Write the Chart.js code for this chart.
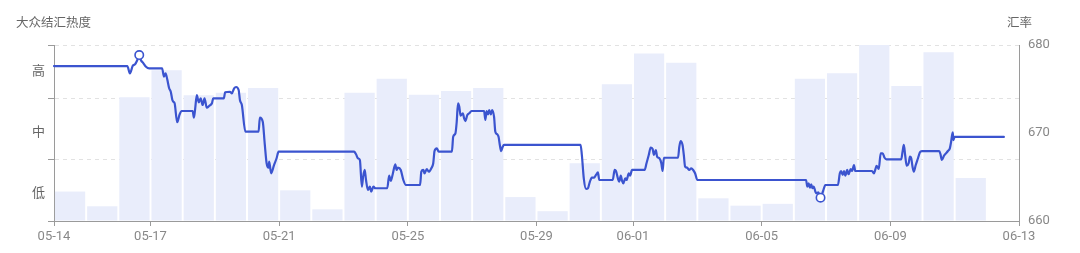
<!DOCTYPE html>
<html>
<head>
<meta charset="utf-8">
<script src="https://cdn.jsdelivr.net/npm/chart.js@4/dist/chart.umd.min.js"></script>
<style>
  html, body { margin: 0; padding: 0; background: #fff; }
  #wrap { position: relative; width: 1080px; height: 253px; }
</style>
</head>
<body>
<div id="wrap"><canvas id="c"></canvas></div>
<script>
// ---- data ----
const tickDays = [0, 3, 7, 11, 15, 18, 22, 26, 30];
const tickLabels = ['05-14', '05-17', '05-21', '05-25', '05-29', '06-01', '06-05', '06-09', '06-13'];

// daily heat (one bar per day starting 05-14), left axis units
const heatValues = [0.48, 0.24, 2.02, 2.46, 2.05, 2.09, 2.17, 0.50, 0.19, 2.09, 2.32, 2.06, 2.12, 2.17, 0.39, 0.16, 0.94, 2.23, 2.73, 2.58, 0.37, 0.25, 0.28, 2.32, 2.41, 2.87, 2.20, 2.75, 0.70];
const heatLevelLabels = ['低', '中', '高'];
const heatLevelPos = [0.44, 1.44, 2.44];
const heatBoundaries = [0, 1, 2, 2.87];

// exchange rate: time in days since 05-14, value
const rateDays = [
  0, 2.28, 2.36, 2.45, 2.52, 2.59, 2.65, 2.70, 2.78, 2.86, 2.96, 3.36, 3.42, 3.47, 3.52, 3.58, 3.63, 3.68, 3.71, 3.75, 3.83, 3.90, 3.96, 4.31, 4.35, 4.39, 4.44, 4.50, 4.56, 4.62, 4.68, 4.75, 4.83, 4.91, 4.95, 5.28, 5.32, 5.47, 5.53, 5.60, 5.66, 5.74, 5.78, 5.84, 5.95, 6.36, 6.40, 6.49, 6.55, 6.61, 6.67, 6.69, 6.75, 6.84, 6.92, 6.98,
  9.33, 9.39, 9.45, 9.51, 9.57, 9.61, 9.66, 9.70, 9.76, 9.82, 9.86, 9.93, 9.99, 10.36, 10.42, 10.47, 10.53, 10.61, 10.65, 10.69, 10.78, 10.86, 10.94, 11.38, 11.42, 11.48, 11.52, 11.59, 11.65, 11.73, 11.79, 11.83, 11.90, 11.96, 12.37, 12.41, 12.48, 12.52, 12.56, 12.60, 12.64, 12.71, 12.75, 12.79, 12.85, 12.91, 12.98, 13.37, 13.41, 13.45, 13.49, 13.53, 13.58, 13.62, 13.68, 13.72, 13.78, 13.82, 13.86, 13.90, 13.95, 13.99,
  16.37, 16.41, 16.47, 16.54, 16.60, 16.66, 16.72, 16.79, 16.85, 16.91, 16.95, 17.37, 17.43, 17.47, 17.53, 17.57, 17.62, 17.66, 17.70, 17.76, 17.80, 17.87, 17.91, 17.97, 18.36, 18.42, 18.49, 18.55, 18.61, 18.65, 18.71, 18.75, 18.82, 18.88, 18.92, 18.96, 19.40, 19.44, 19.48, 19.54, 19.58, 19.62, 19.68, 19.75, 19.81, 19.87, 19.93, 20.00,
  23.38, 23.42, 23.46, 23.50, 23.54, 23.58, 23.62, 23.67, 23.71, 23.76, 23.83, 23.91, 23.98, 24.37, 24.43, 24.47, 24.52, 24.56, 24.60, 24.66, 24.70, 24.77, 24.81, 24.87, 24.91, 25.43, 25.49, 25.53, 25.57, 25.64, 25.70, 25.76, 25.82, 25.88, 26.34, 26.38, 26.42, 26.46, 26.51, 26.57, 26.61, 26.65, 26.69, 26.73, 26.79, 26.86, 26.92, 26.98, 27.52, 27.56, 27.60, 27.67, 27.73, 27.79, 27.85, 27.89, 27.94, 27.96, 28.00, 29.53
];
const rateValues = [
  677.61, 677.61, 676.78, 677.65, 677.81, 678.30, 678.86, 678.30, 677.92, 677.53, 677.35, 677.35, 676.40, 676.78, 676.10, 675.08, 674.69, 673.75, 673.56, 673.38, 671.22, 672.05, 672.50, 672.50, 671.74, 672.81, 674.32, 673.49, 673.94, 673.18, 673.94, 672.88, 673.10, 673.38, 673.94, 673.94, 674.63, 674.69, 674.51, 675.08, 675.23, 674.89, 673.75, 673.18, 670.15, 670.15, 671.74, 671.28, 668.83, 666.56, 666.06, 666.74, 665.42, 666.36, 667.13, 667.88,
  667.88, 667.58, 667.13, 666.93, 663.90, 665.03, 665.80, 664.66, 663.52, 663.90, 663.33, 663.90, 663.72, 663.72, 665.15, 664.55, 665.31, 666.44, 665.80, 666.06, 665.80, 664.66, 664.09, 664.09, 665.60, 665.80, 665.42, 665.91, 665.60, 665.99, 666.56, 667.95, 668.26, 667.88, 667.88, 669.58, 669.97, 671.28, 673.38, 672.99, 671.97, 672.24, 671.67, 671.36, 672.05, 672.24, 672.50, 672.50, 671.48, 672.50, 672.12, 672.61, 672.12, 672.61, 671.85, 670.15, 669.85, 669.58, 668.64, 667.95, 668.44, 668.64,
  668.64, 667.50, 664.85, 663.64, 663.72, 664.47, 664.92, 664.92, 665.23, 665.53, 664.66, 664.66, 665.80, 665.68, 664.85, 664.47, 665.15, 664.55, 664.28, 664.85, 664.66, 665.42, 665.15, 665.80, 665.80, 666.56, 667.50, 668.33, 668.18, 667.50, 668.07, 667.31, 667.13, 666.56, 665.68, 667.19, 667.19, 668.44, 669.09, 668.64, 667.50, 666.17, 666.06, 665.80, 665.99, 665.80, 665.42, 664.66,
  664.66, 663.90, 664.28, 663.78, 664.17, 663.72, 663.90, 663.33, 663.15, 663.26, 662.65, 663.41, 664.09, 664.09, 665.42, 665.68, 665.23, 665.68, 665.15, 665.80, 665.31, 665.91, 665.68, 666.36, 665.68, 665.68, 665.42, 665.80, 666.28, 665.91, 667.69, 667.69, 667.19, 667.01, 667.01, 667.88, 668.64, 667.50, 666.28, 666.56, 667.31, 667.13, 666.17, 665.60, 666.36, 667.13, 667.81, 667.95, 667.95, 667.58, 666.93, 667.42, 667.69, 667.95, 668.26, 669.01, 670.08, 669.20, 669.55, 669.55
];
const rateMin = 660, rateMax = 680, rateStep = 10;

// ---- chart ----
Chart.defaults.font.family = "Roboto, 'Noto Sans CJK SC', sans-serif";
Chart.defaults.color = '#888';

const LINE = '#3b54cf';
const BAR = '#e9edfb';
const AXIS = '#9a9a9a';
const GRID = '#e2e2e2';

const barData = heatValues.map((v, i) => ({ x: i + 0.5, y: v }));
const lineData = rateDays.map((d, i) => ({ x: d, y: rateValues[i] }));
const maxIdx = rateValues.indexOf(Math.max(...rateValues));
const minIdx = rateValues.indexOf(Math.min(...rateValues));

const titlesPlugin = {
  id: 'titles',
  afterDraw(chart) {
    const ctx = chart.ctx;
    ctx.save();
    ctx.font = "12.5px 'Noto Sans CJK SC', sans-serif";
    ctx.fillStyle = '#666';
    ctx.textBaseline = 'middle';
    ctx.textAlign = 'left';
    ctx.fillText('大众结汇热度', 16, 22.5);
    ctx.fillText('汇率', 1007, 22.5);
    ctx.restore();
  }
};

new Chart(document.getElementById('c'), {
  type: 'bar',
  data: {
    datasets: [
      {
        type: 'line',
        data: lineData,
        xAxisID: 'x',
        yAxisID: 'y1',
        borderColor: LINE,
        borderWidth: 2.2,
        borderJoinStyle: 'round',
        borderCapStyle: 'round',
        cubicInterpolationMode: 'monotone',
        pointRadius: (c) => (c.dataIndex === maxIdx || c.dataIndex === minIdx) ? 4.2 : 0,
        pointBackgroundColor: '#fff',
        pointBorderColor: LINE,
        pointBorderWidth: 1.6,
        order: 0,
        clip: false
      },
      {
        type: 'bar',
        data: barData,
        xAxisID: 'x',
        yAxisID: 'y',
        backgroundColor: BAR,
        borderWidth: 0,
        barPercentage: 0.94,
        categoryPercentage: 1.0,
        order: 1
      }
    ]
  },
  options: {
    responsive: true,
    maintainAspectRatio: false,
    animation: false,
    layout: { padding: { top: 45, left: 0, right: 0, bottom: 0 } },
    plugins: { legend: { display: false }, tooltip: { enabled: false } },
    scales: {
      x: {
        type: 'linear',
        min: 0,
        max: 30,
        offset: false,
        grid: { display: true, offset: false, drawOnChartArea: false, drawTicks: true, tickLength: 5, tickColor: AXIS },
        border: { display: true, color: AXIS, width: 1 },
        afterBuildTicks: (s) => { s.ticks = tickDays.map(v => ({ value: v })); },
        afterFit: (s) => { s.height = 32; },
        ticks: {
          autoSkip: false, maxRotation: 0, padding: 3,
          font: { size: 13 }, color: '#888',
          callback: (v, i) => tickLabels[i]
        }
      },
      y: {
        type: 'linear',
        position: 'left',
        min: 0,
        max: heatBoundaries[heatBoundaries.length - 1],
        afterBuildTicks: (s) => {
          const vals = [...heatBoundaries, ...heatLevelPos].sort((a, b) => a - b);
          s.ticks = vals.map(v => ({ value: v }));
        },
        afterFit: (s) => { s.width = 54; },
        grid: {
          drawOnChartArea: true,
          drawTicks: true,
          tickLength: 6,
          lineWidth: 1,
          color: (c) => (c.tick && heatBoundaries.includes(c.tick.value)) ? GRID : 'rgba(0,0,0,0)',
          tickColor: (c) => (c.tick && heatBoundaries.includes(c.tick.value)) ? AXIS : 'rgba(0,0,0,0)',
          tickBorderDash: []
        },
        border: { display: true, color: AXIS, width: 1, dash: [4, 4] },
        ticks: {
          padding: 3,
          font: { size: 13 },
          color: '#666',
          callback: (v) => {
            const k = heatLevelPos.indexOf(v);
            return k >= 0 ? heatLevelLabels[k] : '';
          }
        }
      },
      y1: {
        type: 'linear',
        position: 'right',
        min: rateMin,
        max: rateMax,
        afterFit: (s) => { s.width = 61; },
        grid: { drawOnChartArea: false, drawTicks: false },
        border: { display: true, color: AXIS, width: 1 },
        ticks: { stepSize: rateStep, padding: 9, font: { size: 13 }, color: '#888' }
      }
    }
  },
  plugins: [titlesPlugin]
});
</script>
</body>
</html>
